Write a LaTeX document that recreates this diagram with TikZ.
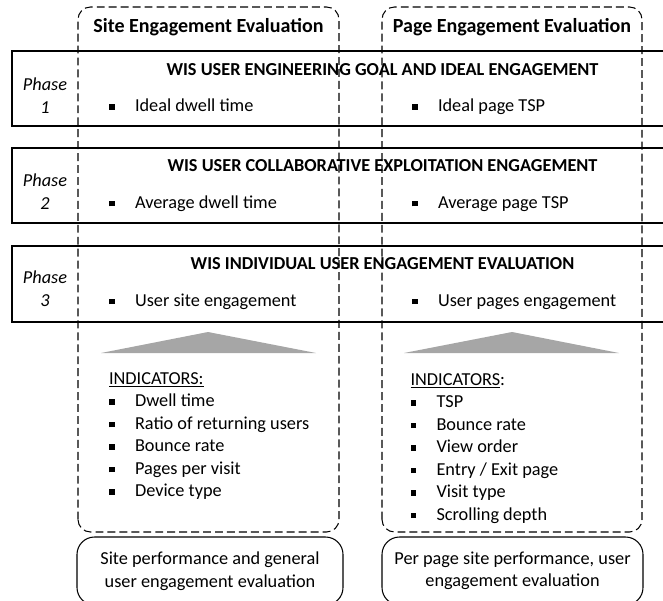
\documentclass[tikz,border=0pt]{standalone}
\usepackage{fontspec}
\setmainfont{Carlito}

% small square bullet with its gap to the text
\newcommand{\sqitem}{\makebox[0.52cm][l]{\rule[0.1em]{0.3em}{0.3em}}}
\newcommand{\bodyfont}{\fontsize{10.4}{12.8}\selectfont}

\begin{document}
\begin{tikzpicture}[line width=0.6pt, every node/.style={inner sep=0pt, font=\bodyfont},
  column/.style={dash pattern=on 4.5pt off 2.3pt, rounded corners=0.25cm},
  header/.style={anchor=base, font=\fontsize{11.4}{14}\selectfont\bfseries},
  goal/.style={anchor=base, font=\bodyfont\bfseries},
  phase/.style={anchor=base, align=center, font=\bodyfont\itshape},
  summary/.style={draw, rounded corners=0.35cm, align=center}]
  \useasboundingbox (0,0) rectangle (13.26,12);
  \clip (0,0) rectangle (13.26,12);

  % Phase rows (open to the right)
  \draw (0.24,10.98) rectangle (13.5,9.48);
  \draw (0.24,9.04) rectangle (13.5,7.54);
  \draw (0.24,7.08) rectangle (13.5,5.56);

  % Site and page columns
  \draw[column] (1.56,1.36) rectangle (6.78,11.86);
  \draw[column] (7.64,1.36) rectangle (12.84,11.86);
  \node[header] (sitehead) at (4.17,11.354) {Site Engagement Evaluation};
  \node[header] (pagehead) at (10.24,11.354) {Page Engagement Evaluation};

  % Phase 1 (base of a two-line node is its last line)
  \node[phase] (phase1) at (0.9,9.734) {Phase\\1};
  \node[goal] (goal1) at (7.65,10.48) {WIS USER ENGINEERING GOAL AND IDEAL ENGAGEMENT};
  \node[anchor=base west] (site1) at (2.17,9.766) {\sqitem Ideal dwell time};
  \node[anchor=base west] (page1) at (8.23,9.766) {\sqitem Ideal page TSP};

  % Phase 2
  \node[phase] (phase2) at (0.9,7.814) {Phase\\2};
  \node[goal] (goal2) at (7.65,8.566) {WIS USER COLLABORATIVE EXPLOITATION ENGAGEMENT};
  \node[anchor=base west] (site2) at (2.17,7.834) {\sqitem Average dwell time};
  \node[anchor=base west] (page2) at (8.23,7.834) {\sqitem Average page TSP};

  % Phase 3
  \node[phase] (phase3) at (0.9,5.88) {Phase\\3};
  \node[goal] (goal3) at (7.65,6.614) {WIS INDIVIDUAL USER ENGAGEMENT EVALUATION};
  \node[anchor=base west] (site3) at (2.17,5.88) {\sqitem User site engagement};
  \node[anchor=base west] (page3) at (8.23,5.88) {\sqitem User pages engagement};

  % Indicators feeding phase 3
  \fill[black!35] (2.02,4.94) -- (4.16,5.36) -- (6.32,4.94) -- cycle;
  \fill[black!35] (8.08,4.94) -- (10.24,5.36) -- (12.38,4.94) -- cycle;
  \node[anchor=base west, align=left] (siteind) at (2.17,2.066) {\underline{INDICATORS:}\\
    \sqitem Dwell time\\
    \sqitem Ratio of returning users\\
    \sqitem Bounce rate\\
    \sqitem Pages per visit\\
    \sqitem Device type};
  \node[anchor=base west, align=left] (pageind) at (8.2,1.6) {\underline{INDICATORS}:\\
    \sqitem TSP\\
    \sqitem Bounce rate\\
    \sqitem View order\\
    \sqitem Entry / Exit page\\
    \sqitem Visit type\\
    \sqitem Scrolling depth};

  % Outcome of each evaluation
  \node[summary, minimum width=5.32cm, minimum height=1.36cm] (sitesum) at (4.2,0.58)
    {Site performance and general\\user engagement evaluation};
  \node[summary, minimum width=5.22cm, minimum height=1.36cm] (pagesum) at (10.25,0.58)
    {Per page site performance, user\\engagement evaluation};
\end{tikzpicture}
\end{document}
